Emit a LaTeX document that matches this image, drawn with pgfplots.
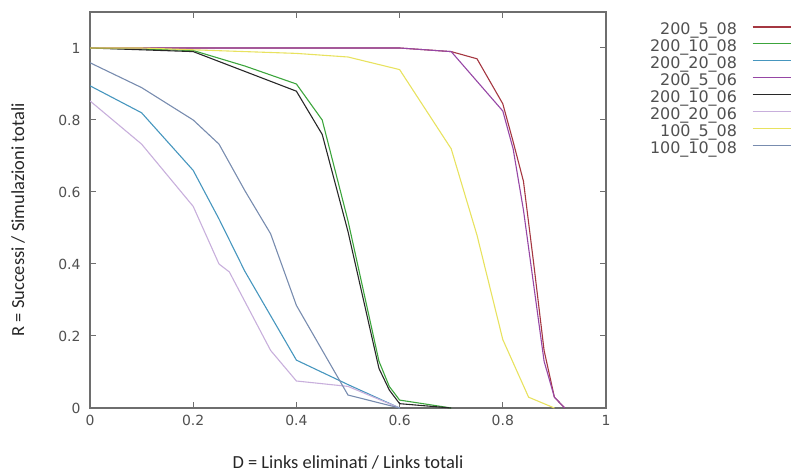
\documentclass[border=0pt]{standalone}
\usepackage{pgfplots}
\pgfplotsset{compat=1.18}
\usepackage{fontspec}
\setmainfont{Carlito}
\newfontfamily\dejavu{DejaVu Sans}
\definecolor{cred}{RGB}{165,55,65}
\definecolor{cgreen}{RGB}{60,165,60}
\definecolor{cteal}{RGB}{70,150,190}
\definecolor{cpurple}{RGB}{150,70,165}
\definecolor{cblack}{RGB}{40,40,40}
\definecolor{clilac}{RGB}{200,175,220}
\definecolor{cyellow}{RGB}{232,226,95}
\definecolor{cslate}{RGB}{120,140,175}
\definecolor{axgray}{RGB}{110,110,110}
\definecolor{txgray}{RGB}{80,80,80}
\newcommand{\us}{\symbol{95}}
\begin{document}
\begin{tikzpicture}
\useasboundingbox (0,0) rectangle (798bp,476bp);
\begin{axis}[
  at={(90bp,68bp)}, anchor=south west,
  scale only axis, width=516bp, height=396bp,
  xmin=0, xmax=1, ymin=0, ymax=1.1,
  xtick={0,0.2,0.4,0.6,0.8,1},
  ytick={0,0.2,0.4,0.6,0.8,1},
  tick align=inside,
  major tick length=6bp,
  axis line style={axgray, line width=1.3bp},
  tick style={axgray, line width=1bp},
  /pgf/number format/assume math mode=true,
  tick label style={font=\dejavu\fontsize{14}{14}\selectfont, text=txgray},
  xticklabel style={yshift=-4bp},
  yticklabel style={xshift=-6bp},
  xlabel={D = Links eliminati / Links totali},
  ylabel={R = Successi / Simulazioni totali},
  every axis x label/.style={at={(axis description cs:0.5,-0.137)}, anchor=center,
    font=\fontsize{18.5}{20}\selectfont, text=black!85},
  every axis y label/.style={at={(axis description cs:-0.1395,0.475)}, anchor=center, rotate=90,
    font=\fontsize{18.5}{20}\selectfont, text=black!85},
  legend style={at={(axis description cs:1.365,0.978)}, anchor=north east, draw=none, fill=none,
    font=\dejavu\fontsize{16}{17}\selectfont, text=txgray, row sep=0pt,
    nodes={inner sep=0pt, text height=12bp, text depth=4.9bp}},
  legend cell align=right,
  legend plot pos=right,
  legend image code/.code={\path (0bp,0bp) (53bp,0bp); \draw[#1, line width=1.3bp] (15bp,4.5bp) -- (53bp,4.5bp);},
  every axis plot/.append style={line width=1.1bp},
]
\addplot[cred] coordinates {(0,1)(0.1,1)(0.2,1)(0.3,1)(0.4,1)(0.5,1)(0.6,1)(0.7,0.99)(0.75,0.97)(0.8,0.845)(0.82,0.74)(0.84,0.63)(0.86,0.40)(0.88,0.16)(0.9,0.03)(0.92,0)};
\addlegendentry{200\us5\us08}
\addplot[cgreen] coordinates {(0,1)(0.1,0.997)(0.2,0.993)(0.3,0.95)(0.4,0.90)(0.45,0.80)(0.5,0.52)(0.56,0.13)(0.58,0.06)(0.6,0.022)(0.7,0)};
\addlegendentry{200\us10\us08}
\addplot[cteal] coordinates {(0,0.895)(0.1,0.82)(0.2,0.66)(0.25,0.525)(0.3,0.38)(0.4,0.133)(0.5,0.065)(0.6,0)};
\addlegendentry{200\us20\us08}
\addplot[cpurple] coordinates {(0,1)(0.1,1)(0.2,1)(0.3,1)(0.4,1)(0.5,1)(0.6,1)(0.7,0.99)(0.8,0.825)(0.82,0.72)(0.84,0.55)(0.86,0.34)(0.88,0.13)(0.9,0.03)(0.92,0)};
\addlegendentry{200\us5\us06}
\addplot[cblack] coordinates {(0,1)(0.1,0.995)(0.2,0.99)(0.3,0.935)(0.4,0.88)(0.45,0.76)(0.5,0.49)(0.56,0.11)(0.58,0.05)(0.6,0.012)(0.7,0)};
\addlegendentry{200\us10\us06}
\addplot[clilac] coordinates {(0,0.853)(0.1,0.733)(0.2,0.56)(0.25,0.40)(0.27,0.378)(0.35,0.16)(0.4,0.075)(0.5,0.06)(0.6,0)};
\addlegendentry{200\us20\us06}
\addplot[cyellow] coordinates {(0,1)(0.1,1)(0.2,0.995)(0.3,0.99)(0.4,0.985)(0.5,0.975)(0.6,0.94)(0.7,0.72)(0.75,0.48)(0.8,0.19)(0.85,0.03)(0.9,0)};
\addlegendentry{100\us5\us08}
\addplot[cslate] coordinates {(0,0.959)(0.1,0.89)(0.2,0.80)(0.25,0.733)(0.3,0.604)(0.35,0.484)(0.4,0.285)(0.5,0.036)(0.6,0)};
\addlegendentry{100\us10\us08}
\end{axis}
\end{tikzpicture}
\end{document}
